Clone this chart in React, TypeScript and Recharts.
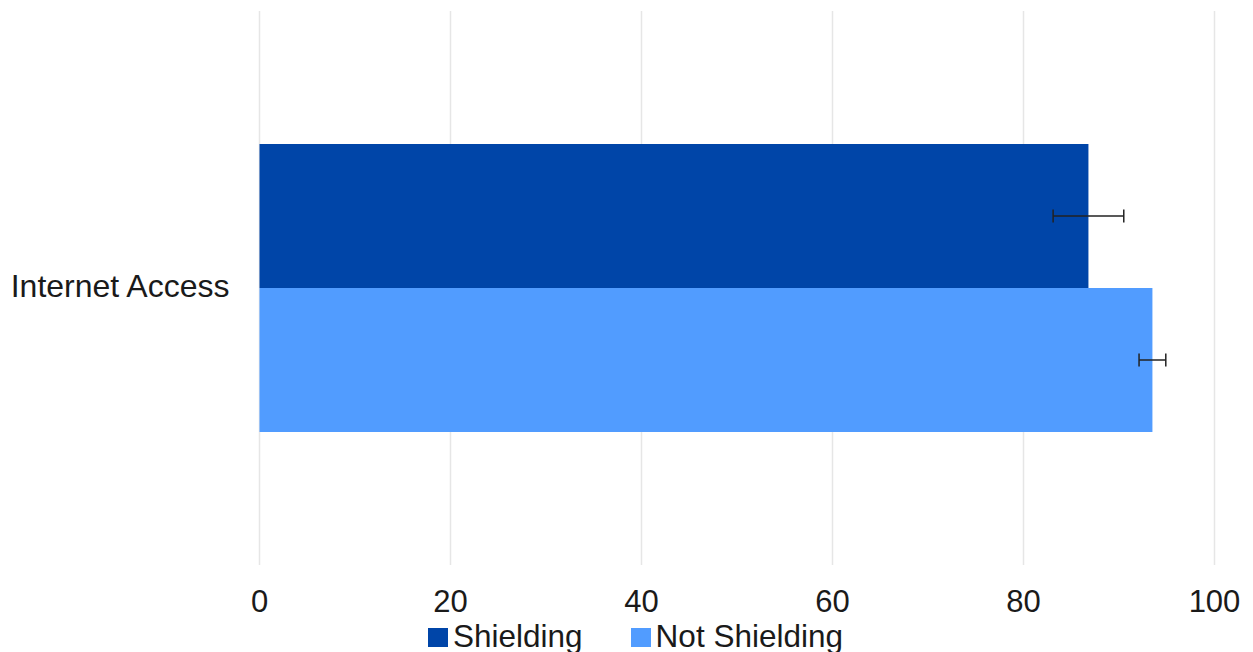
import React from "react";
import {
  BarChart, Bar, XAxis, YAxis, CartesianGrid, Legend, ErrorBar,
} from "recharts";

const categories = ["Internet Access"];
const shielding = [86.8];
const shieldingErr = [3.7];
const notShielding = [93.5];
const notShieldingErr = [1.4];
const xTicks = [0, 20, 40, 60, 80, 100];

const COLORS = {
  shielding: "#0045a8",
  notShielding: "#519cff",
};

const data = categories.map((name, i) => ({
  name,
  shielding: shielding[i],
  shieldingErr: shieldingErr[i],
  notShielding: notShielding[i],
  notShieldingErr: notShieldingErr[i],
}));

const FONT = "'Liberation Sans', Arial, sans-serif";

const LegendRow = () => (
  <div style={{
    display: "flex",
    alignItems: "flex-end",
    paddingLeft: 428,
    height: 32,
    lineHeight: "32px",
    fontFamily: FONT,
    fontSize: 31.5,
    color: "#1a1a1a",
  }}>
    {[
      { label: "Shielding", color: COLORS.shielding },
      { label: "Not Shielding", color: COLORS.notShielding },
    ].map((item, i) => (
      <div key={item.label} style={{ display: "flex", alignItems: "baseline", marginRight: i === 0 ? 48 : 0 }}>
        <span style={{ display: "inline-block", width: 20, height: 19, background: item.color, marginRight: 5 }} />
        <span>{item.label}</span>
      </div>
    ))}
  </div>
);

export default function App() {
  return (
    <div style={{ position: "absolute", left: 0, top: 0, width: 1253, height: 652, background: "#fff" }}>
      <BarChart
        width={1253}
        height={652}
        data={data}
        layout="vertical"
        margin={{ top: 11, right: 38.5, left: 0, bottom: 0 }}
        barSize={144}
        barGap={0}
      >
        <CartesianGrid horizontal={false} stroke="#e6e6e6" strokeWidth={1.5} />
        <XAxis
          type="number"
          domain={[0, 100]}
          ticks={xTicks}
          axisLine={false}
          tickLine={false}
          tickSize={0}
          tickMargin={25}
          height={55}
          tick={{ fontSize: 31, fill: "#1a1a1a", fontFamily: FONT }}
        />
        <YAxis
          type="category"
          dataKey="name"
          width={259.5}
          axisLine={false}
          tickLine={false}
          tickSize={0}
          tickMargin={30}
          tick={{ fontSize: 32, fill: "#1a1a1a", fontFamily: FONT, dy: -2 }}
        />
        <Legend verticalAlign="bottom" wrapperStyle={{ left: 0, width: 1253 }} content={<LegendRow />} />
        <Bar dataKey="shielding" name="Shielding" fill={COLORS.shielding} isAnimationActive={false}>
          <ErrorBar dataKey="shieldingErr" direction="x" width={6.5} stroke="#222" strokeWidth={1.5} isAnimationActive={false} />
        </Bar>
        <Bar dataKey="notShielding" name="Not Shielding" fill={COLORS.notShielding} isAnimationActive={false}>
          <ErrorBar dataKey="notShieldingErr" direction="x" width={6.5} stroke="#222" strokeWidth={1.5} isAnimationActive={false} />
        </Bar>
      </BarChart>
    </div>
  );
}
